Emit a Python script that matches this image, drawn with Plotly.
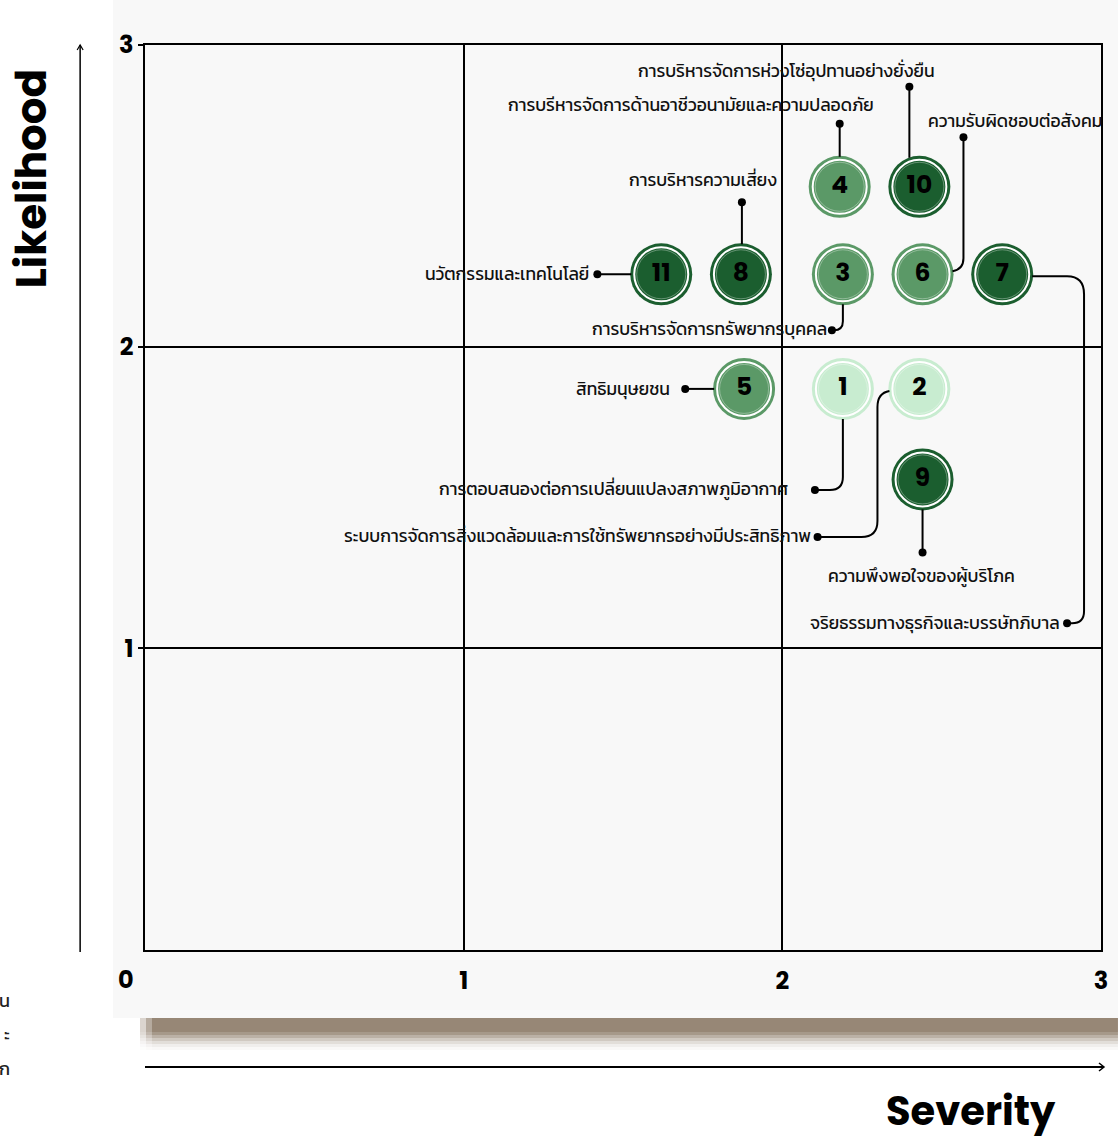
import plotly.graph_objects as go

# ---------------- data ----------------
issue_ids = ["1", "2", "3", "4", "5", "6", "7", "8", "9", "10", "11"]
issue_names = [
    "การตอบสนองต่อการเปลี่ยนแปลงสภาพภูมิอากาศ",
    "ระบบการจัดการสิ่งแวดล้อมและการใช้ทรัพยากรอย่างมีประสิทธิภาพ",
    "การบริหารจัดการทรัพยากรบุคคล",
    "การบรีหารจัดการด้านอาชีวอนามัยและความปลอดภัย",
    "สิทธิมนุษยชน",
    "ความรับผิดชอบต่อสังคม",
    "จริยธรรมทางธุรกิจและบรรษัทภิบาล",
    "การบริหารความเสี่ยง",
    "ความพึงพอใจของผู้บริโภค",
    "การบริหารจัดการห่วงโซ่อุปทานอย่างยั่งยืน",
    "นวัตกรรมและเทคโนโลยี",
]
severity = [2.19, 2.43, 2.19, 2.18, 1.88, 2.44, 2.69, 1.87, 2.44, 2.43, 1.62]
likelihood = [1.86, 1.86, 2.24, 2.53, 1.86, 2.24, 2.24, 2.24, 1.56, 2.53, 2.24]
tier = ["low", "low", "mid", "mid", "mid", "mid", "high", "high", "high", "high", "high"]
x_ticks = [1, 2, 3]
y_ticks = [1, 2, 3]
origin_label = "0"
x_title = "Severity"
y_title = "Likelihood"
edge_fragments = ["น", "ะ", "ก"]

# ---------------- styles / layout ----------------
W, H = 1120, 1139
ML, MR, MT, MB = 145, 17, 45, 189
PW, PH = W - ML - MR, H - MT - MB
PX, PY = PW / 3.0, PH / 3.0
tier_color = {"high": "#1b5e2f", "mid": "#5b9967", "low": "#c8ecd0"}
THAI = "Kanit, Prompt, 'Noto Sans Thai', 'Noto Sans', sans-serif"
BOLD = "Poppins, Inter, Roboto, sans-serif"


def to_px(x, y):
    return ML + x * PX, MT + PH - y * PY


def to_data(px, py):
    return (px - ML) / PX, (MT + PH - py) / PY


def pp(px, py):  # pixel -> paper
    return (px - ML) / PW, (MT + PH - py) / PH


# leader geometry: pixel offsets from the bubble centre
leaders = {
    "10": dict(path=[("M", -10, -29), ("L", -10, -100)], dot=(-10, -100),
               lab=(18, -116), anchor="right"),
    "4": dict(path=[("M", 0, -30), ("L", 0, -63)], dot=(0, -63), lab=(36, -82), anchor="right"),
    "6": dict(path=[("M", 30, -3), ("Q", 41, -5, 41, -16), ("L", 41, -137)], dot=(41, -137),
              lab=(3, -153), anchor="left"),
    "8": dict(path=[("M", 1, -30), ("L", 1, -72)], dot=(1, -72), lab=(-38, -94), anchor="center"),
    "11": dict(path=[("M", -30, 0), ("L", -64, 0)], dot=(-64, 0), lab=(-70, 0), anchor="right"),
    "3": dict(path=[("M", 0, 30), ("L", 0, 47), ("Q", 0, 56, -9, 56), ("L", -11, 56)], dot=(-11, 56),
              lab=(-14, 55), anchor="right"),
    "5": dict(path=[("M", -30, 0), ("L", -59, 0)], dot=(-59, 0), lab=(-72, 0), anchor="right"),
    "1": dict(path=[("M", 0, 30), ("L", 0, 88), ("Q", 0, 101, -13, 101), ("L", -28, 101)], dot=(-28, 101),
              lab=(-53, 100), anchor="right"),
    "2": dict(path=[("M", -30, 2), ("Q", -42, 4, -42, 18), ("L", -42, 132), ("Q", -42, 148, -58, 148),
                    ("L", -102, 148)], dot=(-102, 148), lab=(-107, 147), anchor="right"),
    "9": dict(path=[("M", 0, 30), ("L", 0, 73)], dot=(0, 73), lab=(-1, 97), anchor="center"),
    "7": dict(path=[("M", 30, 2), ("L", 65, 2), ("Q", 82, 2, 82, 20), ("L", 82, 337), ("Q", 82, 349, 70, 349),
                    ("L", 65, 349)], dot=(65, 349), lab=(60, 349), anchor="right"),
}

fig = go.Figure()

shapes = []
annotations = []

# panel background and shadow
x0, y0 = pp(113, 0)
x1, y1 = pp(1120, 1018)
shapes.append(dict(type="rect", xref="paper", yref="paper", x0=x0, x1=x1, y0=y1, y1=y0,
                   fillcolor="#f8f8f8", line_width=0, layer="below"))
shade = [(1018, 1032, 1.0), (1032, 1035, 0.85), (1035, 1038, 0.65), (1038, 1041, 0.45),
         (1041, 1044, 0.28), (1044, 1047, 0.14), (1047, 1050, 0.06)]
for a, b, op in shade:
    for xs, xe, f in [(140, 146, 0.35), (146, 152, 0.7), (152, 1120, 1.0)]:
        sx0, sy0 = pp(xs, a)
        sx1, sy1 = pp(xe, b)
        shapes.append(dict(type="rect", xref="paper", yref="paper", x0=sx0, x1=sx1, y0=sy1, y1=sy0,
                           fillcolor="#978776", opacity=op * f, line_width=0, layer="below"))

# axis arrows
ax0, ay0 = pp(80, 952)
ax1, ay1 = pp(80, 45)
shapes.append(dict(type="line", xref="paper", yref="paper", x0=ax0, y0=ay0, x1=ax1, y1=ay1,
                   line=dict(color="black", width=1.5)))
c1 = pp(77, 50); c2 = pp(80, 45); c3 = pp(83, 50)
shapes.append(dict(type="path", xref="paper", yref="paper",
                   path=f"M {c1[0]} {c1[1]} L {c2[0]} {c2[1]} L {c3[0]} {c3[1]}",
                   line=dict(color="black", width=1.2)))
bx0, by0 = pp(145, 1067)
bx1, by1 = pp(1106, 1067)
shapes.append(dict(type="line", xref="paper", yref="paper", x0=bx0, y0=by0, x1=bx1, y1=by1,
                   line=dict(color="black", width=2)))
d1 = pp(1101, 1063); d2 = pp(1106, 1067); d3 = pp(1101, 1071)
shapes.append(dict(type="path", xref="paper", yref="paper",
                   path=f"M {d1[0]} {d1[1]} L {d2[0]} {d2[1]} L {d3[0]} {d3[1]}",
                   line=dict(color="black", width=1.5)))

# leader lines, dots, labels
dot_x, dot_y = [], []
for i, iid in enumerate(issue_ids):
    g = leaders[iid]
    cx, cy = to_px(severity[i], likelihood[i])
    parts = []
    for seg in g["path"]:
        cmd, vals = seg[0], seg[1:]
        pts = []
        for k in range(0, len(vals), 2):
            dx_, dy_ = to_data(cx + vals[k], cy + vals[k + 1])
            pts.append(f"{dx_:.5f},{dy_:.5f}")
        parts.append(cmd + " " + " ".join(pts))
    shapes.append(dict(type="path", xref="x", yref="y", path=" ".join(parts),
                       line=dict(color="black", width=2), layer="above"))
    ddx, ddy = to_data(cx + g["dot"][0], cy + g["dot"][1])
    dot_x.append(ddx)
    dot_y.append(ddy)
    lx, ly = to_data(cx + g["lab"][0], cy + g["lab"][1])
    annotations.append(dict(x=lx, y=ly, xref="x", yref="y", text=issue_names[i], showarrow=False,
                            xanchor=g["anchor"], yanchor="middle",
                            font=dict(family=THAI, size=17.5, color="#111111")))

fig.add_trace(go.Scatter(x=dot_x, y=dot_y, mode="markers",
                         marker=dict(size=8, color="black"), hoverinfo="skip", showlegend=False))

colors = [tier_color[t] for t in tier]
fig.add_trace(go.Scatter(x=severity, y=likelihood, mode="markers",
                         marker=dict(size=62, color=colors, line=dict(width=0)),
                         text=issue_names, hoverinfo="text", showlegend=False))
fig.add_trace(go.Scatter(x=severity, y=likelihood, mode="markers",
                         marker=dict(size=54, color="rgba(0,0,0,0)", line=dict(width=2, color="white")),
                         hoverinfo="skip", showlegend=False))
fig.add_trace(go.Scatter(x=severity, y=likelihood, mode="markers",
                         marker=dict(size=49, color="rgba(0,0,0,0)",
                                     line=dict(width=0.6, color="rgba(255,255,255,0.55)")),
                         hoverinfo="skip", showlegend=False))
fig.add_trace(go.Scatter(x=severity, y=likelihood, mode="text", text=issue_ids,
                         textposition="middle center",
                         textfont=dict(family=BOLD, size=25, color="black", weight="bold"),
                         hoverinfo="skip", showlegend=False))

# axis titles and origin label
t1 = pp(31, 179)
annotations.append(dict(x=t1[0], y=t1[1], xref="paper", yref="paper", text=y_title, textangle=-90,
                        showarrow=False, font=dict(family=BOLD, size=42, color="black", weight="bold"),
                        xanchor="center", yanchor="middle"))
t2 = pp(973, 1111)
annotations.append(dict(x=t2[0], y=t2[1], xref="paper", yref="paper", text=x_title,
                        showarrow=False, font=dict(family=BOLD, size=40, color="black", weight="bold"),
                        xanchor="center", yanchor="middle"))
o = pp(126, 980)
annotations.append(dict(x=o[0], y=o[1], xref="paper", yref="paper", text=origin_label,
                        showarrow=False, font=dict(family=BOLD, size=24, color="black", weight="bold"),
                        xanchor="center", yanchor="middle"))
for k, (ch, py_) in enumerate(zip(edge_fragments, [1000, 1033, 1068])):
    p = pp(12, py_)
    annotations.append(dict(x=p[0], y=p[1], xref="paper", yref="paper", text=ch, showarrow=False,
                            xanchor="right", yanchor="middle",
                            font=dict(family=THAI, size=18, color="#222222")))

axis_common = dict(range=[0, 3], showgrid=True, gridcolor="black", gridwidth=1.5,
                   zeroline=False, showline=True, linecolor="black", linewidth=1.5, mirror=True,
                   tickfont=dict(family=BOLD, size=24, color="black", weight="bold"), fixedrange=True)
fig.update_xaxes(**axis_common, tickvals=x_ticks, ticktext=[str(v) for v in x_ticks],
                 ticks="outside", ticklen=8, tickcolor="rgba(0,0,0,0)")
fig.update_yaxes(**axis_common, tickvals=y_ticks, ticktext=[str(v) for v in y_ticks],
                 ticks="outside", ticklen=5, tickcolor="black", tickwidth=1.5)

fig.update_layout(width=W, height=H, autosize=False,
                  margin=dict(l=ML, r=MR, t=MT, b=MB),
                  paper_bgcolor="white", plot_bgcolor="#f8f8f8",
                  shapes=shapes, annotations=annotations, showlegend=False)

fig.write_html("out.html", config={"displayModeBar": False},
               post_script="document.body.style.margin='0';document.body.style.padding='0';")
